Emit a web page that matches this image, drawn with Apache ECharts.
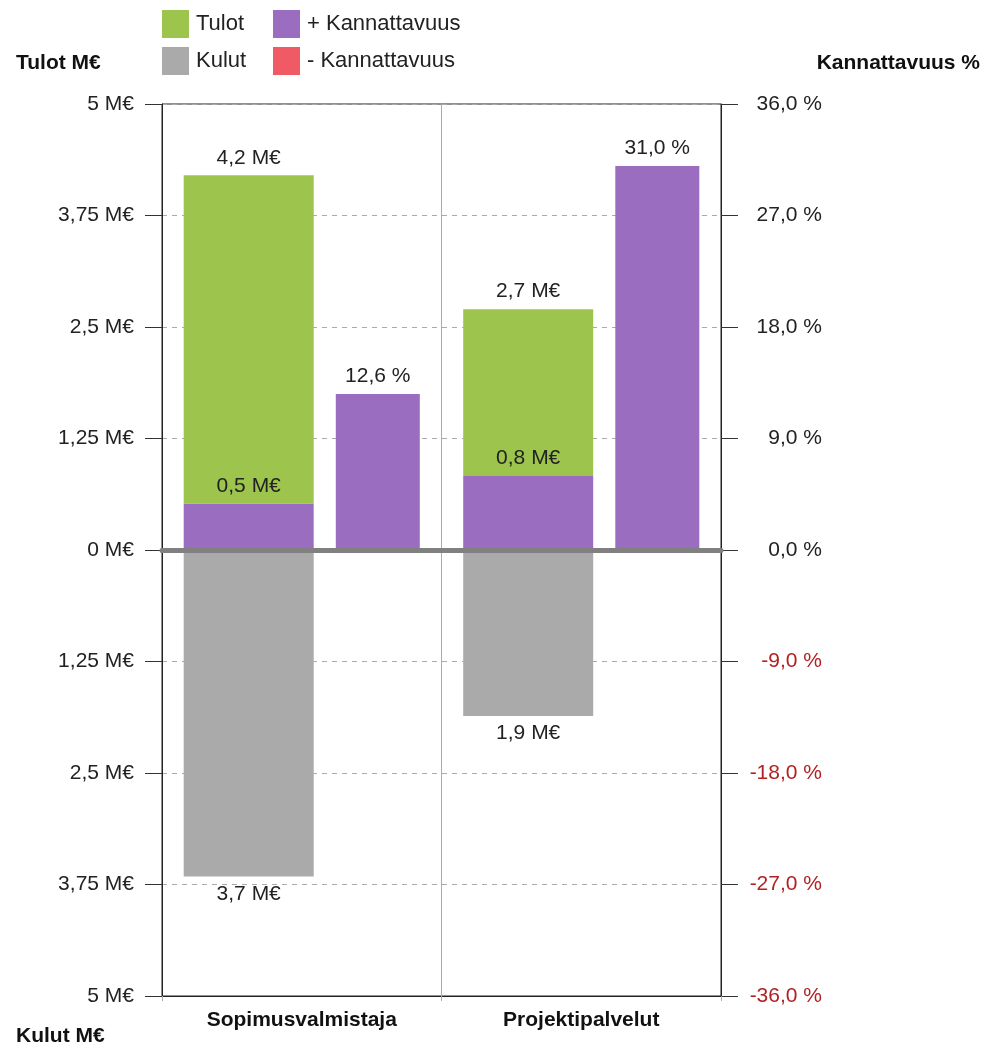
<!DOCTYPE html>
<html lang="fi">
<head>
    <meta charset="UTF-8">
    <title>Tulot, kulut ja kannattavuus</title>
    <script src="https://cdn.jsdelivr.net/npm/echarts@6/dist/echarts.min.js"></script>
</head>
<body style="margin:0;background:#fff">
    <div id="main" style="width: 986px;height: 1050px"></div>
    <script type="text/javascript">
        var categories = ['Sopimusvalmistaja', 'Projektipalvelut'];
        var tulot = [4.2, 2.7];          // M€
        var kulut = [3.66, 1.86];        // M€
        var kateMe = [0.52, 0.83];       // kannattavuus M€
        var katePct = [12.6, 31.0];      // kannattavuus %

        var font = 'Liberation Sans, Arial, sans-serif';

        function fmt1(v) {
            return v.toFixed(1).replace('.', ',');
        }

        // vihreä osa pinotaan katteen päälle niin että yläreuna = tulot
        var tulotLoput = tulot.map(function (v, i) { return +(v - kateMe[i]).toFixed(2); });
        var kulutNeg = kulut.map(function (v) { return -v; });

        var barLabel = {
            show: true,
            fontFamily: font,
            fontSize: 21,
            color: '#222',
            distance: 7
        };

        var titleStyle = { fontFamily: font, fontSize: 21, fontWeight: 'bold', color: '#111' };

        option = {
            animation: false,
            textStyle: { fontFamily: font },
            title: [
                { text: 'Tulot M€', left: 11, top: 48, textStyle: titleStyle },
                { text: 'Kannattavuus %', right: 1, top: 48, textStyle: titleStyle },
                { text: 'Kulut M€', left: 11, top: 1021, textStyle: titleStyle }
            ],
            legend: [
                {
                    data: ['Tulot', 'Kulut'],
                    orient: 'vertical',
                    left: 157, top: 5,
                    icon: 'rect',
                    itemWidth: 27, itemHeight: 28, itemGap: 9,
                    textStyle: { fontFamily: font, fontSize: 22, color: '#222', padding: [6, 0, 0, 2] }
                },
                {
                    data: ['+ Kannattavuus', '- Kannattavuus'],
                    orient: 'vertical',
                    left: 268, top: 5,
                    icon: 'rect',
                    itemWidth: 27, itemHeight: 28, itemGap: 9,
                    textStyle: { fontFamily: font, fontSize: 22, color: '#222', padding: [6, 0, 0, 2] }
                }
            ],
            grid: {
                left: 162, right: 265, top: 104, bottom: 54,
                show: true,
                borderColor: '#222',
                borderWidth: 1
            },
            xAxis: [
                {
                    type: 'category',
                    data: categories,
                    position: 'bottom',
                    axisLine: { onZero: false, lineStyle: { color: '#222' } },
                    axisTick: { show: true, length: 5, lineStyle: { color: '#aaa' } },
                    splitLine: { show: true, lineStyle: { color: '#aaa' } },
                    axisLabel: { fontFamily: font, fontSize: 21, fontWeight: 'bold', color: '#111', margin: 14 }
                },
                {
                    type: 'category',
                    data: categories,
                    position: 'top',
                    z: 10,
                    axisLine: { onZero: true, lineStyle: { color: '#808080', width: 5 } },
                    axisTick: { show: false },
                    axisLabel: { show: false },
                    splitLine: { show: false }
                }
            ],
            yAxis: [
                {
                    type: 'value',
                    position: 'left',
                    min: -5, max: 5, interval: 1.25,
                    axisLine: { show: true, lineStyle: { color: '#222' } },
                    axisTick: { show: true, length: 17, lineStyle: { color: '#333' } },
                    splitLine: { show: true, lineStyle: { color: '#aaa', type: [5, 5] } },
                    axisLabel: {
                        fontFamily: font, fontSize: 21, color: '#222', margin: 28,
                        formatter: function (v) {
                            return String(Math.abs(v)).replace('.', ',') + ' M€';
                        }
                    }
                },
                {
                    type: 'value',
                    position: 'right',
                    min: -36, max: 36, interval: 9,
                    axisLine: { show: true, lineStyle: { color: '#222' } },
                    axisTick: { show: true, length: 17, lineStyle: { color: '#333' } },
                    splitLine: { show: false },
                    axisLabel: {
                        fontFamily: font, fontSize: 21, margin: 101, align: 'right',
                        color: function (v) { return +v < 0 ? '#b22222' : '#222'; },
                        formatter: function (v) { return fmt1(v) + ' %'; }
                    }
                }
            ],
            series: [
                {
                    name: '+ Kannattavuus',
                    type: 'bar',
                    stack: 'me',
                    yAxisIndex: 0,
                    barWidth: 130,
                    barGap: '17%',
                    itemStyle: { color: '#9a6dc0' },
                    label: Object.assign({}, barLabel, {
                        position: 'top',
                        formatter: function (p) { return fmt1(kateMe[p.dataIndex]) + ' M€'; }
                    }),
                    data: kateMe
                },
                {
                    name: 'Tulot',
                    type: 'bar',
                    stack: 'me',
                    yAxisIndex: 0,
                    barWidth: 130,
                    barGap: '17%',
                    itemStyle: { color: '#9dc44d' },
                    label: Object.assign({}, barLabel, {
                        position: 'top',
                        formatter: function (p) { return fmt1(tulot[p.dataIndex]) + ' M€'; }
                    }),
                    data: tulotLoput
                },
                {
                    name: 'Kulut',
                    type: 'bar',
                    stack: 'me',
                    yAxisIndex: 0,
                    barWidth: 130,
                    barGap: '17%',
                    itemStyle: { color: '#aaaaaa' },
                    label: Object.assign({}, barLabel, {
                        position: 'bottom',
                        formatter: function (p) { return fmt1(kulut[p.dataIndex]) + ' M€'; }
                    }),
                    data: kulutNeg
                },
                {
                    name: '+ Kannattavuus',
                    type: 'bar',
                    stack: 'pct',
                    yAxisIndex: 1,
                    barWidth: 84,
                    barGap: '17%',
                    itemStyle: { color: '#9a6dc0' },
                    label: Object.assign({}, barLabel, {
                        position: 'top',
                        formatter: function (p) { return fmt1(p.value) + ' %'; }
                    }),
                    data: katePct
                },
                {
                    name: '- Kannattavuus',
                    type: 'bar',
                    stack: 'pct',
                    yAxisIndex: 1,
                    barWidth: 84,
                    barGap: '17%',
                    itemStyle: { color: '#f05a64' },
                    data: ['-', '-']
                }
            ]
        };

        var myChart = echarts.init(document.getElementById('main'));
        myChart.setOption(option);
    </script>
</body>
</html>
